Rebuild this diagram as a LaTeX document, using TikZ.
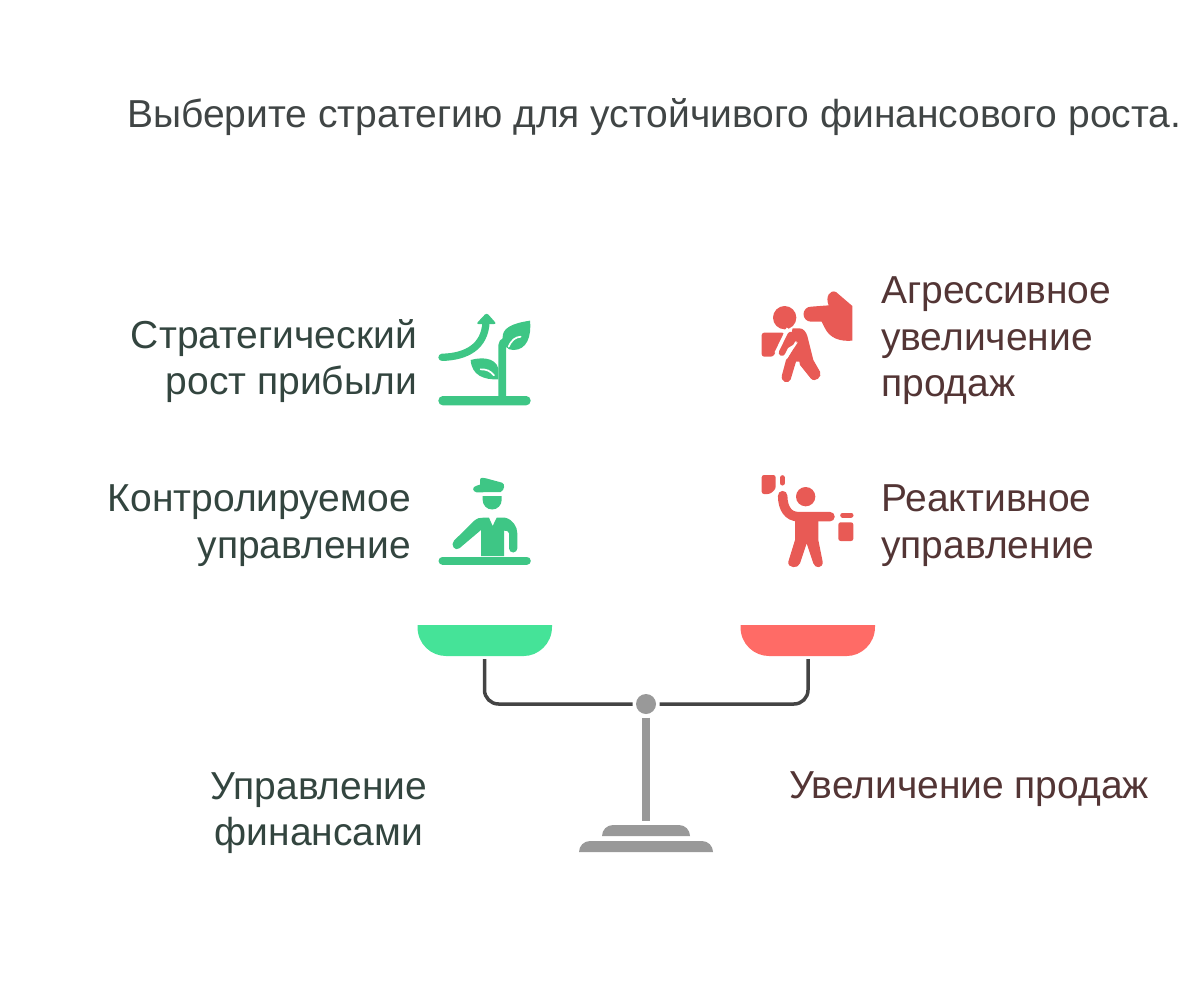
\documentclass[tikz,border=0pt]{standalone}
\usepackage{fontspec}
\setmainfont{Liberation Sans}
\usepackage{tikz}
\definecolor{titlegray}{HTML}{404545}
\definecolor{leftink}{HTML}{33453F}
\definecolor{rightink}{HTML}{533535}
\definecolor{icongreen}{HTML}{3EC685}
\definecolor{iconred}{HTML}{E85A55}
\definecolor{pangreen}{HTML}{45E398}
\definecolor{panred}{HTML}{FF6B66}
\definecolor{beamgray}{HTML}{444444}
\definecolor{standgray}{HTML}{999999}
\tikzset{
  lefttext/.style={text=leftink,align=right,anchor=east,inner sep=0pt},
  righttext/.style={text=rightink,align=left,anchor=west,inner sep=0pt},
  iconbox/.style={x=1pt/3,y=-1pt/3},
  beam/.style={beamgray,line width=3.5pt,rounded corners=14pt},
}
\begin{document}
\begin{tikzpicture}[x=1pt,y=-1pt,every node/.style={font=\fontsize{39}{46.5}\selectfont}]
    \useasboundingbox (0,0) rectangle (1200,993);

    \node[text=titlegray,anchor=base west,inner sep=0pt] (title) at (127,127) {Выберите стратегию для устойчивого финансового роста.};

    \node[lefttext] (profit) at (417,361) {Стратегический\\рост прибыли};
    \node[lefttext] (control) at (411,525.5) {Контролируемое\\управление};
    \node[lefttext,align=center,anchor=center] (finance) at (319,813) {Управление\\финансами};
    \node[righttext] (aggressive) at (881,341) {Агрессивное\\увеличение\\продаж};
    \node[righttext] (reactive) at (881,525.5) {Реактивное\\управление};
    \node[righttext] (sales) at (789,789) {Увеличение продаж};

    % scales
    \fill[pangreen] (417.5,625) -- (552,625) -- (552,627) .. controls (552,644) and (538,656) .. (524,656) -- (446,656) .. controls (431,656) and (417.5,644) .. (417.5,627) -- cycle;
    \fill[panred] (740.5,625) -- (875,625) -- (875,627) .. controls (875,644) and (861,656) .. (847,656) -- (769,656) .. controls (754,656) and (740.5,644) .. (740.5,627) -- cycle;

    \node[circle,fill=standgray,minimum size=20pt,inner sep=0pt,outer sep=3.5pt] (pivot) at (646,704) {};
    \coordinate (panleft) at (484.5,659);
    \coordinate (panright) at (808,659);
    \coordinate (foot) at (646,821);
    \draw[beam] (pivot) -| (panleft);
    \draw[beam] (pivot) -| (panright);
    \draw[standgray,line width=7.5pt] (pivot) -- (foot);
    \fill[standgray] (602,836) arc[start angle=180,end angle=270,radius=11] -- (679,825) arc[start angle=270,end angle=360,radius=11] -- cycle;
    \fill[standgray] (579,852) arc[start angle=180,end angle=270,radius=11] -- (702,841) arc[start angle=270,end angle=360,radius=11] -- cycle;

    % plant
    \begin{scope}[shift={(430,300)},iconbox]
      \fill[icongreen,rounded corners=4.5pt] (25,288) rectangle (302,316);
      \fill[icongreen] (205,290) -- (205,135) .. controls (205,125) and (212,118) .. (218,115) .. controls (215,85) and (245,70) .. (300,62) .. controls (305,110) and (290,150) .. (250,150) .. controls (240,150) and (232,147) .. (228,140) -- (228,290) -- cycle;
      \draw[white,line width=1.7pt,line cap=round] (236,140) .. controls (245,120) and (255,112) .. (272,110);
      \fill[icongreen] (122,180) .. controls (150,172) and (195,170) .. (205,205) -- (205,238) .. controls (160,240) and (125,225) .. (122,180) -- cycle;
      \draw[white,line width=1.7pt,line cap=round] (152,208) .. controls (170,208) and (180,212) .. (192,226);
      \draw[icongreen,line width=7.3pt,line cap=round] (36,172) .. controls (110,170) and (165,140) .. (168,65);
      \fill[icongreen,rounded corners=2.5pt] (170,38) -- (200,72) -- (138,72) -- cycle;
    \end{scope}

    % runner
    \begin{scope}[shift={(750,280)},iconbox]
      \fill[iconred] (104,113) circle[radius=35];
      \fill[iconred] (183,80) -- (236,76) .. controls (225,50) and (240,28) .. (258,36) -- (307,78) -- (307,182) .. controls (270,185) and (240,175) .. (225,145) -- (215,125) -- (183,125) arc[start angle=90,end angle=270,radius=22.5] -- cycle;
      \fill[iconred,rounded corners=2.5pt] (35,158) -- (104,158) -- (70,230) -- (35,230) -- cycle;
      \fill[iconred] (128,145) -- (148,145) .. controls (160,145) and (168,155) .. (172,168) -- (190,240) -- (210,275) .. controls (218,290) and (195,310) .. (182,295) -- (150,255) -- (148,245) -- (138,245) -- (122,298) .. controls (115,315) and (90,305) .. (96,285) -- (108,240) -- (145,185) -- (112,205) -- cycle;
      \draw[white,line width=1.7pt] (112,144) -- (76,218);
      \draw[iconred,line width=6.5pt,line cap=round] (122,165) -- (96,218);
      \draw[white,line width=1.7pt,line cap=round] (138,186) -- (110,234);
    \end{scope}

    % officer
    \begin{scope}[shift={(430,470)},iconbox]
      \draw[icongreen,line width=8.3pt,line cap=round] (38,272) -- (290,272);
      \fill[icongreen] (150,30) .. controls (150,22) and (160,22) .. (168,25) -- (216,38) .. controls (226,42) and (224,60) .. (212,66) -- (140,67) .. controls (126,65) and (126,50) .. (140,47) -- (150,44) -- cycle;
      \fill[icongreen] (158,78) -- (215,78) -- (215,90) arc[start angle=0,end angle=180,radius=28.5] -- cycle;
      \fill[icongreen] (153,258) -- (153,180) -- (88,235) .. controls (75,245) and (60,225) .. (72,212) -- (135,150) .. controls (140,145) and (150,143) .. (160,143) -- (177,143) -- (188,168) -- (200,143) -- (225,143) .. controls (248,148) and (262,170) .. (262,190) -- (262,235) arc[start angle=0,end angle=180,radius=12.5] -- (237,190) .. controls (237,185) and (232,182) .. (222,182) -- (222,258) -- cycle;
    \end{scope}

    % juggler
    \begin{scope}[shift={(750,465)},iconbox]
      \fill[iconred,rounded corners=2.3pt] (35,30) -- (77,30) -- (77,72) -- (60,87) -- (35,87) -- cycle;
      \draw[iconred,line width=5pt,line cap=round] (97,38) -- (97,54);
      \fill[iconred] (167,95) circle[radius=29];
      \draw[iconred,line width=9.5pt,line cap=round] (98,92) .. controls (98,130) and (115,155) .. (145,155) -- (240,155);
      \fill[iconred] (135,150) -- (205,150) -- (205,225) -- (218,290) .. controls (220,310) and (195,312) .. (190,295) -- (170,235) -- (150,295) .. controls (145,312) and (112,310) .. (115,290) -- (135,225) -- cycle;
      \draw[iconred,line width=5pt,line cap=round] (278,150) -- (303,150);
      \fill[iconred,rounded corners=2.3pt] (265,172) rectangle (310,228);
    \end{scope}
\end{tikzpicture}
\end{document}
